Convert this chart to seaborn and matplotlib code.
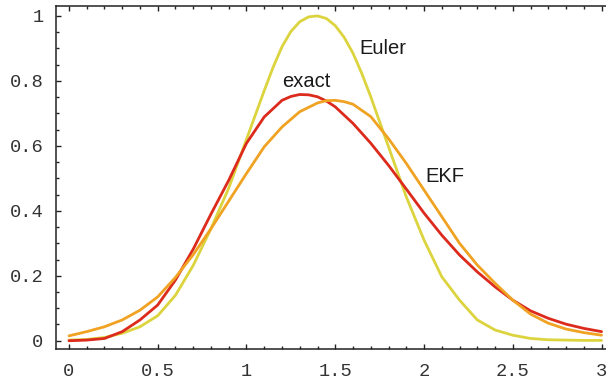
import pandas as pd
import seaborn as sns
import matplotlib.pyplot as plt
from matplotlib.ticker import MultipleLocator, FixedLocator

# values (step 0.1, with a few extra readings near the peaks)
exact_x = [0.0, 0.1, 0.2, 0.3, 0.4, 0.5, 0.6, 0.7, 0.8, 0.9, 1.0, 1.1, 1.2,
           1.25, 1.3, 1.35, 1.4, 1.45, 1.5, 1.6, 1.7, 1.8, 1.9, 2.0, 2.1, 2.2,
           2.3, 2.4, 2.5, 2.6, 2.7, 2.8, 2.9, 3.0]
exact = [0.000, 0.002, 0.007, 0.028, 0.064, 0.110, 0.187, 0.282, 0.390, 0.494,
         0.608, 0.689, 0.740, 0.752, 0.758, 0.757, 0.751, 0.738, 0.720, 0.669,
         0.608, 0.540, 0.467, 0.393, 0.325, 0.264, 0.212, 0.166, 0.125, 0.092,
         0.069, 0.051, 0.038, 0.028]

euler_x = [0.0, 0.1, 0.2, 0.3, 0.4, 0.5, 0.6, 0.7, 0.8, 0.9, 1.0, 1.1, 1.15,
           1.2, 1.25, 1.3, 1.35, 1.4, 1.45, 1.5, 1.55, 1.6, 1.65, 1.7, 1.8,
           1.9, 2.0, 2.1, 2.2, 2.3, 2.4, 2.5, 2.6, 2.7, 2.8, 2.9, 3.0]
euler = [0.002, 0.004, 0.010, 0.023, 0.043, 0.077, 0.140, 0.232, 0.345, 0.470,
         0.620, 0.770, 0.842, 0.905, 0.952, 0.982, 0.997, 1.000, 0.992, 0.970,
         0.934, 0.885, 0.822, 0.751, 0.597, 0.443, 0.310, 0.197, 0.125, 0.064,
         0.033, 0.017, 0.007, 0.003, 0.002, 0.001, 0.001]

ekf_x = [0.0, 0.1, 0.2, 0.3, 0.4, 0.5, 0.6, 0.7, 0.8, 0.9, 1.0, 1.1, 1.2,
         1.3, 1.4, 1.45, 1.5, 1.55, 1.6, 1.7, 1.8, 1.9, 2.0, 2.1, 2.2, 2.3,
         2.4, 2.5, 2.6, 2.7, 2.8, 2.9, 3.0]
ekf = [0.015, 0.028, 0.043, 0.064, 0.094, 0.135, 0.195, 0.265, 0.345, 0.430,
       0.515, 0.597, 0.658, 0.705, 0.732, 0.739, 0.740, 0.736, 0.728, 0.690,
       0.622, 0.546, 0.464, 0.382, 0.300, 0.233, 0.177, 0.125, 0.082, 0.054,
       0.036, 0.025, 0.017]

x_ticks = [0, 0.5, 1, 1.5, 2, 2.5, 3]
x_tick_labels = ["0", "0.5", "1", "1.5", "2", "2.5", "3"]
y_ticks = [0, 0.2, 0.4, 0.6, 0.8, 1]
y_tick_labels = ["0", "0.2", "0.4", "0.6", "0.8", "1"]

colors = {"Euler": "#dcd43e", "exact": "#dc2a1c", "EKF": "#f0a223"}

df = pd.concat([
    pd.DataFrame({"x": euler_x, "p": euler, "method": "Euler"}),
    pd.DataFrame({"x": exact_x, "p": exact, "method": "exact"}),
    pd.DataFrame({"x": ekf_x, "p": ekf, "method": "EKF"}),
], ignore_index=True)

sns.set_style("ticks")
plt.rcParams["font.family"] = ["Liberation Sans", "DejaVu Sans"]

fig = plt.figure(figsize=(6.06, 3.84), dpi=100)
ax = fig.add_axes([0.0924, 0.0911, 0.9076, 0.8929])

sns.lineplot(data=df, x="x", y="p", hue="method", palette=colors,
             linewidth=2.0, legend=False, ax=ax)

ax.set_xlim(-0.073, 3.025)
ax.set_ylim(-0.0255, 1.03)
ax.set_xlabel("")
ax.set_ylabel("")

ax.xaxis.set_major_locator(FixedLocator(x_ticks))
ax.set_xticklabels(x_tick_labels)
ax.yaxis.set_major_locator(FixedLocator(y_ticks))
ax.set_yticklabels(y_tick_labels)
ax.xaxis.set_minor_locator(MultipleLocator(0.1))
ax.yaxis.set_minor_locator(MultipleLocator(0.05))

ax.spines["right"].set_visible(False)
for side in ["left", "top", "bottom"]:
    ax.spines[side].set_linewidth(1.1)
    ax.spines[side].set_color("#222222")

ax.tick_params(which="both", direction="in", top=True, right=False,
               color="#222222", width=1.0)
ax.tick_params(which="major", length=3.8)
ax.tick_params(which="minor", length=2.2)
ax.tick_params(axis="x", which="major", pad=10)
ax.tick_params(axis="y", which="major", pad=9)
for lab in ax.get_xticklabels() + ax.get_yticklabels():
    lab.set_family(["Liberation Mono", "DejaVu Sans Mono"])
    lab.set_fontsize(13.5)
    lab.set_color("#333333")

ax.text(1.634, 0.882, "Euler", fontsize=14.5, color="#1a1a1a", va="baseline")
ax.text(1.20, 0.780, "exact", fontsize=14.5, color="#1a1a1a", va="baseline")
ax.text(2.006, 0.489, "EKF", fontsize=14.5, color="#1a1a1a", va="baseline")

fig.savefig("out.png", dpi=100)
